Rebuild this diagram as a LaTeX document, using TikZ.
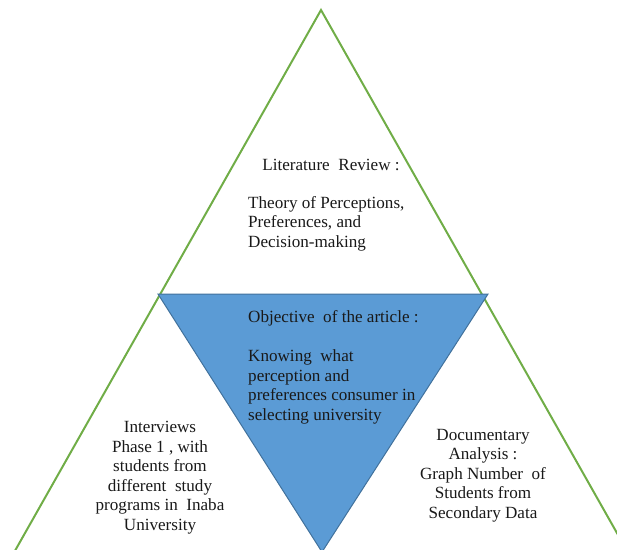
\documentclass[tikz,border=0pt]{standalone}
\usepackage{fontspec}
\setmainfont{Liberation Serif}
\definecolor{tgreen}{HTML}{70AD47}
\definecolor{tblue}{HTML}{5B9BD5}
\definecolor{tblueedge}{HTML}{41719C}
\begin{document}
\begin{tikzpicture}[x=1pt,y=-1pt,
  txt/.style={inner sep=0pt, font=\fontsize{17.1}{19.5}\selectfont, text=black!90}]
\useasboundingbox (0,0) rectangle (617,549);
\clip (0,0) rectangle (617,549);
\coordinate (apex) at (321,10);
\coordinate (bl) at (-14,602);
\coordinate (br) at (656,602);
\draw[tgreen, line width=2pt, line join=miter] (bl) -- (apex) -- (br);
\coordinate (itl) at (158,294);
\coordinate (itr) at (488,294);
\coordinate (ib) at (322,552);
\filldraw[fill=tblue, draw=tblueedge, line width=1pt] (itl) -- (itr) -- (ib) -- cycle;
% multi-line nodes: base anchor = baseline of the last line
\node[txt, anchor=base] (lrtitle) at (331,170) {Literature\ \ Review :};
\node[txt, anchor=base west, align=left] (lrbody) at (248,247) {Theory of Perceptions,\\Preferences, and\\Decision-making};
\node[txt, anchor=base west, align=left] (obj) at (248,420) {Objective\ \ of the article :\\[19.5pt]Knowing\ \ what\\perception and\\preferences consumer in\\selecting university};
\node[txt, anchor=base, align=center] (intv) at (160,530) {Interviews\\Phase 1 , with\\students from\\different\ \ study\\programs in\ \ Inaba\\University};
\node[txt, anchor=base, align=center] (doc) at (483,518) {Documentary\\Analysis :\\Graph Number\ \ of\\Students from\\Secondary Data};
\end{tikzpicture}
\end{document}
